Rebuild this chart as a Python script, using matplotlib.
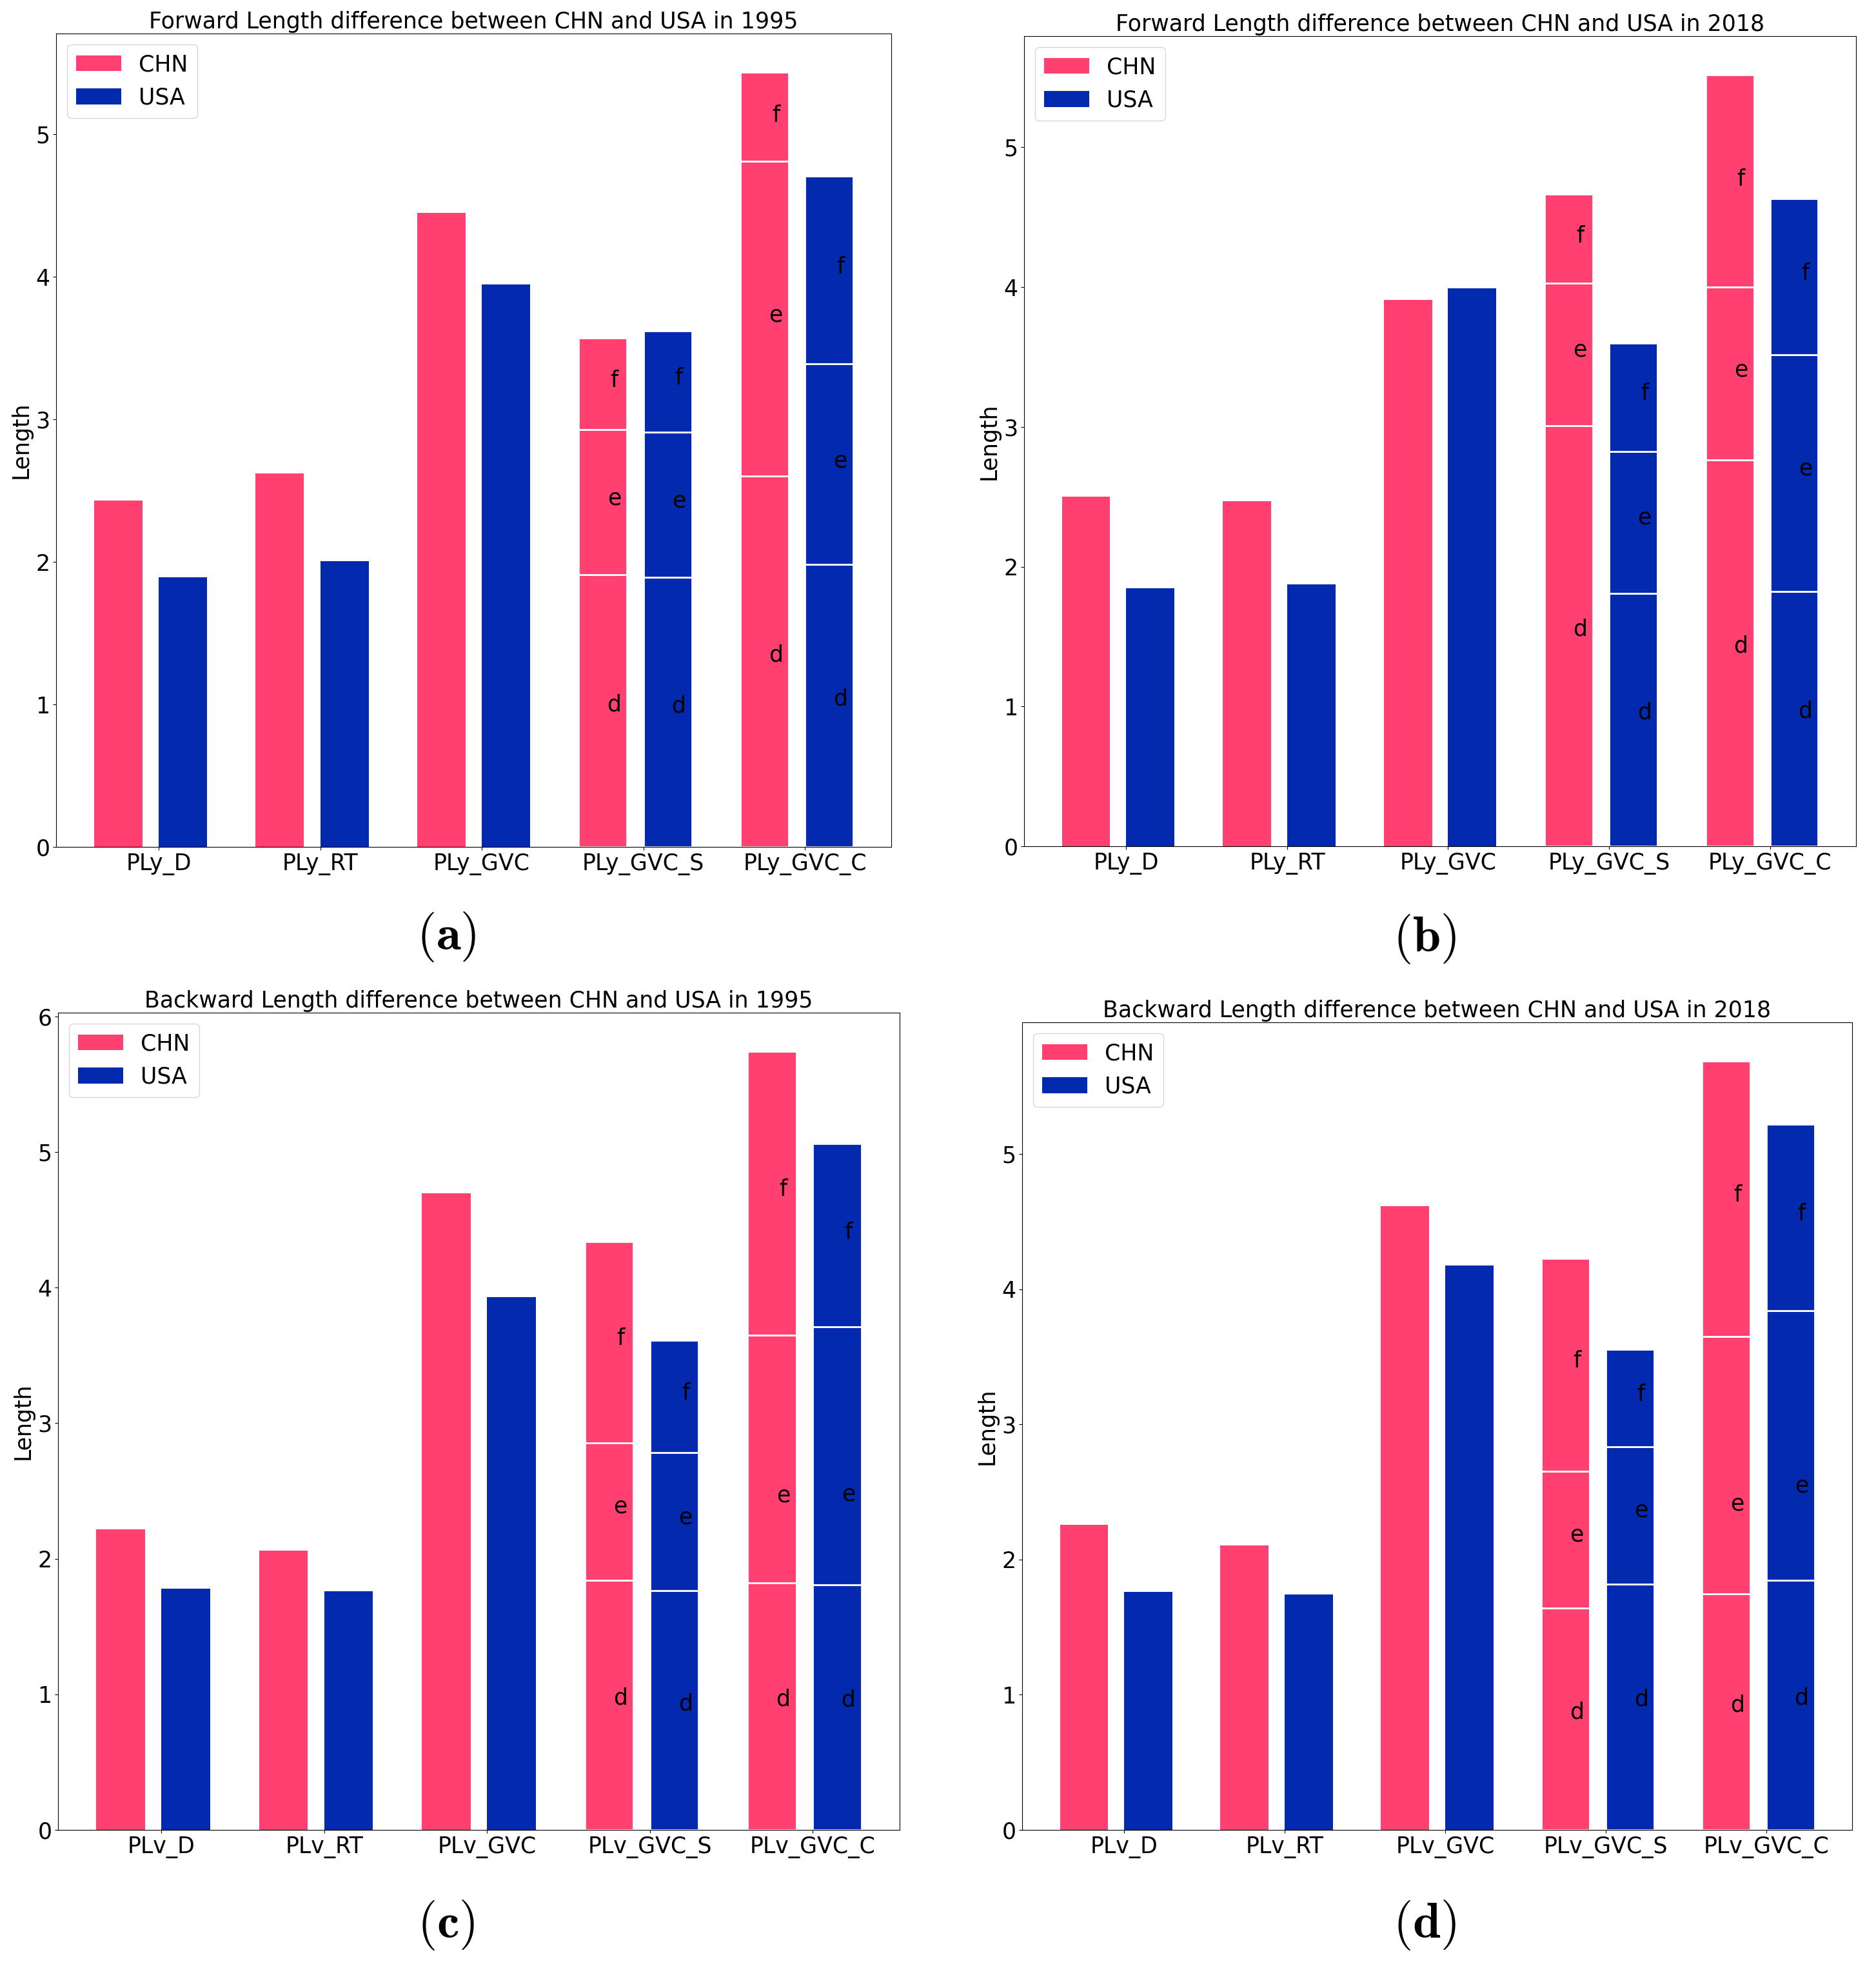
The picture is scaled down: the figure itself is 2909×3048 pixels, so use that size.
import matplotlib
matplotlib.use('Agg')
import matplotlib.pyplot as plt
import numpy as np

plt.rcParams['font.family'] = ['DejaVu Sans']
plt.rcParams['mathtext.fontset'] = 'cm'

# ---- data ----
fwd_labels = ['PLy_D', 'PLy_RT', 'PLy_GVC', 'PLy_GVC_S', 'PLy_GVC_C']
bwd_labels = ['PLv_D', 'PLv_RT', 'PLv_GVC', 'PLv_GVC_S', 'PLv_GVC_C']
seg_names = ['d', 'e', 'f']

# plain bars (D, RT, GVC)
a_chn = [2.43, 2.62, 4.45]
a_usa = [1.89, 2.005, 3.945]
# cumulative tops of the d / e / f segments (GVC_S, GVC_C)
a_chn_split = [[1.91, 2.93, 3.57], [2.60, 4.81, 5.435]]
a_usa_split = [[1.89, 2.91, 3.62], [1.98, 3.39, 4.705]]
# heights at which the d / e / f letters sit
a_chn_tag = [[1.00, 2.445, 3.27], [1.345, 3.73, 5.13]]
a_usa_tag = [[0.99, 2.43, 3.29], [1.04, 2.71, 4.07]]

b_chn = [2.50, 2.47, 3.91]
b_usa = [1.845, 1.875, 3.99]
b_chn_split = [[3.01, 4.03, 4.665], [2.765, 4.00, 5.52]]
b_usa_split = [[1.81, 2.825, 3.60], [1.825, 3.515, 4.635]]
b_chn_tag = [[1.553, 3.55, 4.364], [1.432, 3.406, 4.772]]
b_usa_tag = [[0.958, 2.35, 3.24], [0.967, 2.70, 4.096]]

c_chn = [2.215, 2.06, 4.695]
c_usa = [1.78, 1.76, 3.93]
c_chn_split = [[1.84, 2.855, 4.34], [1.82, 3.65, 5.74]]
c_usa_split = [[1.765, 2.785, 3.61], [1.81, 3.71, 5.06]]
c_chn_tag = [[0.971, 2.387, 3.626], [0.962, 2.465, 4.722]]
c_usa_tag = [[0.93, 2.303, 3.219], [0.957, 2.475, 4.403]]

d_chn = [2.255, 2.105, 4.615]
d_usa = [1.76, 1.74, 4.175]
d_chn_split = [[1.64, 2.655, 4.23], [1.745, 3.65, 5.69]]
d_usa_split = [[1.82, 2.835, 3.555], [1.845, 3.84, 5.22]]
d_chn_tag = [[0.871, 2.183, 3.471], [0.922, 2.414, 4.694]]
d_usa_tag = [[0.964, 2.363, 3.221], [0.978, 2.544, 4.555]]

CHN_COLOR = '#FF4070'
USA_COLOR = '#0229AE'
FS = 25
W = 0.3

FIG_W, FIG_H = 2909, 3048


def rect(l, r, t, b):
    return [l / FIG_W, 1 - b / FIG_H, (r - l) / FIG_W, (b - t) / FIG_H]


def draw_panel(ax, title, labels, chn, usa, chn_split, usa_split,
               chn_tag, usa_tag):
    x = np.arange(len(labels))
    n_plain = len(chn)
    ax.bar(x[:n_plain] - 0.25, chn, W, color=CHN_COLOR, label='CHN')
    ax.bar(x[:n_plain] + 0.15, usa, W, color=USA_COLOR, label='USA')
    for k in range(len(chn_split)):
        pos = x[n_plain + k]
        for center, tops, tags, color in (
                (pos - 0.25, chn_split[k], chn_tag[k], CHN_COLOR),
                (pos + 0.15, usa_split[k], usa_tag[k], USA_COLOR)):
            bottoms = [0] + list(tops[:-1])
            heights = np.diff([0] + list(tops))
            for name, btm, h, ty in zip(seg_names, bottoms, heights, tags):
                ax.bar(center, h, W, bottom=btm, color=color,
                       edgecolor='white', linewidth=2)
                ax.text(center + 0.07, ty, name, ha='center',
                        va='center', fontsize=FS)
    ax.set_xticks(x)
    ax.set_xticklabels(labels, fontsize=FS)
    ax.tick_params(axis='y', labelsize=FS)
    ax.set_ylabel('Length', fontsize=FS)
    ax.set_title(title, fontsize=FS)
    ax.legend(loc='upper left', fontsize=FS)


fig = plt.figure(figsize=(FIG_W / 100, FIG_H / 100), dpi=100)

ax_a = fig.add_axes(rect(87, 1382, 52, 1313))
draw_panel(ax_a, 'Forward Length difference between CHN and USA in 1995',
           fwd_labels, a_chn, a_usa, a_chn_split, a_usa_split,
           a_chn_tag, a_usa_tag)
ax_b = fig.add_axes(rect(1588, 2878, 56, 1312))
draw_panel(ax_b, 'Forward Length difference between CHN and USA in 2018',
           fwd_labels, b_chn, b_usa, b_chn_split, b_usa_split,
           b_chn_tag, b_usa_tag)
ax_c = fig.add_axes(rect(90, 1395, 1570, 2837))
draw_panel(ax_c, 'Backward Length difference between CHN and USA in 1995',
           bwd_labels, c_chn, c_usa, c_chn_split, c_usa_split,
           c_chn_tag, c_usa_tag)
ax_d = fig.add_axes(rect(1585, 2872, 1585, 2837))
draw_panel(ax_d, 'Backward Length difference between CHN and USA in 2018',
           bwd_labels, d_chn, d_usa, d_chn_split, d_usa_split,
           d_chn_tag, d_usa_tag)

for tag, px, py in (('a', 692, 1453), ('b', 2209, 1455),
                    ('c', 692, 2985), ('d', 2209, 2985)):
    fig.text(px / FIG_W, 1 - py / FIG_H, r'$\mathbf{(%s)}$' % tag,
             ha='center', va='center', fontsize=56)

fig.savefig('out.png', dpi=100)
